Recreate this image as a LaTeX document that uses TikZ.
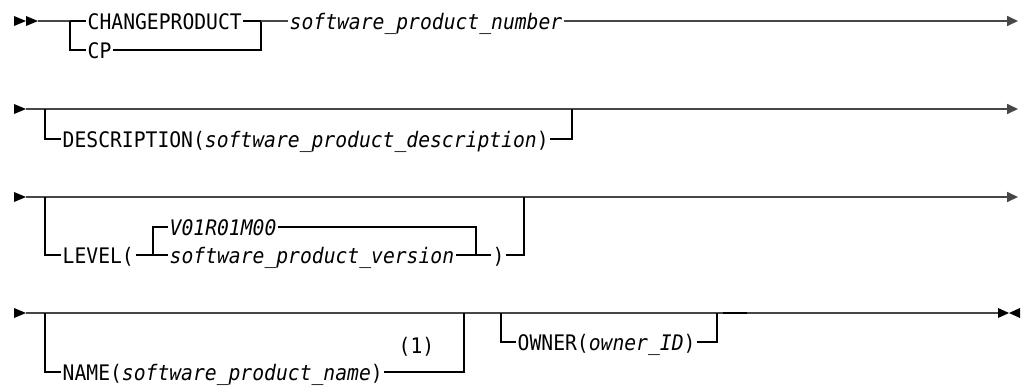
\documentclass[tikz,border=0pt]{standalone}
\usepackage{fontspec}
\newfontfamily\rrfont[FakeStretch=0.92]{DejaVu Sans Mono}
\usetikzlibrary{arrows.meta}
\begin{document}
\begin{tikzpicture}[x=1pt,y=-1pt,
  mainln/.style={line width=1.7pt, draw=black!72},
  brln/.style={line width=1.2pt, draw=black},
  endtip/.style={-{Triangle[length=11pt,width=10pt]}},
  lbl/.style={anchor=west, inner xsep=1.5pt, inner ysep=0pt, text height=16pt, text depth=0pt,
     font=\rrfont\fontsize{21.4}{24}\selectfont},
  ilbl/.style={lbl, font=\rrfont\fontsize{21.4}{24}\selectfont\itshape},
  tipfill/.style={fill=black}]
\useasboundingbox (0,0) rectangle (1024,388);

% ---------- Row 1 ----------
\fill[tipfill] (14,16) -- (26,21) -- (14,26) -- cycle;
\fill[tipfill] (26,16) -- (38,21) -- (26,26) -- cycle;
\coordinate (s1) at (38,21);
\coordinate (b1) at (70,21);
\coordinate (j1) at (261,21);
\coordinate (e1) at (1018,21);
\node[lbl] (chg) at (86,21) {CHANGEPRODUCT};
\node[lbl] (cp) at (86,50) {CP};
\node[ilbl] (num) at (288,21) {software\_product\_number};
\draw[mainln] (s1) -- (b1);
\draw[brln] (b1) -- (chg.west);
\draw[brln] (b1) |- (cp.west);
\draw[brln] (chg.east) -- (j1);
\draw[brln] (cp.east) -| (j1);
\draw[mainln] (j1) -- (num.west);
\draw[mainln,endtip] (num.east) -- (e1);

% ---------- Row 2 ----------
\fill[tipfill] (14,104) -- (26,109) -- (14,114) -- cycle;
\coordinate (s2) at (26,109);
\coordinate (b2) at (45,109);
\coordinate (j2) at (572,109);
\coordinate (e2) at (1018,109);
\node[lbl] (desc) at (61,139) {DESCRIPTION(\textit{software\_product\_description})};
\draw[mainln,endtip] (s2) -- (e2);
\draw[brln] (b2) |- (desc.west);
\draw[brln] (desc.east) -| (j2);

% ---------- Row 3 ----------
\fill[tipfill] (14,192) -- (26,197) -- (14,202) -- cycle;
\coordinate (s3) at (26,197);
\coordinate (b3) at (45,197);
\coordinate (e3) at (1018,197);
\coordinate (vb) at (153,255);
\coordinate (vj) at (476,255);
\coordinate (j3) at (524,197);
\node[lbl] (lev) at (61,255) {LEVEL(};
\node[ilbl] (vdef) at (168,227) {V01R01M00};
\node[ilbl] (vver) at (168,255) {software\_product\_version};
\node[lbl] (rpar) at (491,255) {)};
\draw[mainln,endtip] (s3) -- (e3);
\draw[brln] (b3) |- (lev.west);
\draw[brln] (lev.east) -- (vb);
\draw[brln] (vb) |- (vdef.west);
\draw[brln] (vb) -- (vver.west);
\draw[brln] (vdef.east) -| (vj);
\draw[brln] (vver.east) -- (vj);
\draw[brln] (vj) -- (rpar.west);
\draw[brln] (rpar.east) -| (j3);

% ---------- Row 4 ----------
\fill[tipfill] (14,308) -- (26,313) -- (14,318) -- cycle;
\coordinate (s4) at (26,313);
\coordinate (b4) at (45,313);
\coordinate (j4) at (464,313);
\coordinate (b5) at (501,313);
\coordinate (j5) at (717,313);
\coordinate (e4) at (998,313);
\node[lbl] (name) at (61,372) {NAME(\textit{software\_product\_name})};
\node[lbl] (note) at (397,345) {(1)};
\node[lbl] (own) at (516,342) {OWNER(\textit{owner\_ID})};
\draw[mainln] (s4) -- (e4);
\draw[brln] (b4) |- (name.west);
\draw[brln] (name.east) -| (j4);
\draw[brln] (b5) |- (own.west);
\draw[brln] (own.east) -| (j5);
\draw[line width=2.6pt, draw=black] (723,313) -- (747,313);
\fill[tipfill] (998,308) -- (1009,313) -- (998,318) -- cycle;
\fill[tipfill] (1020,308) -- (1009,313) -- (1020,318) -- cycle;
\end{tikzpicture}
\end{document}
